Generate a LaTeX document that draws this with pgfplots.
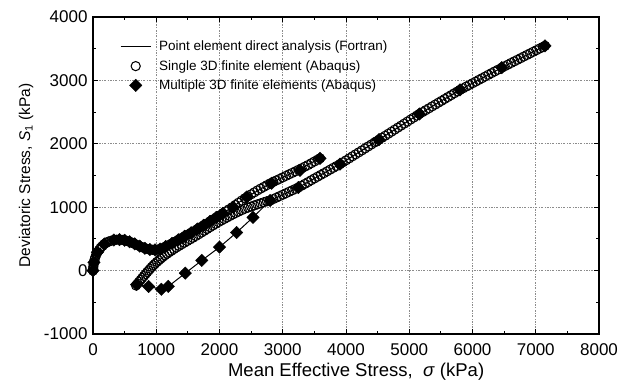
\documentclass[border=0pt]{standalone}
\usepackage{pgfplots}
\pgfplotsset{compat=1.18}
\usepackage{fontspec}
\setmainfont{Liberation Sans}
\pgfplotsset{
  linelegend/.style={legend image code/.code={\draw[##1] (0pt,0pt) -- (30pt,0pt);}},
  marklegend/.style={legend image code/.code={\draw[##1] plot coordinates {(15pt,0pt)};}},
}

\begin{document}
\begin{tikzpicture}
\begin{axis}[
  scale only axis, width=506pt, height=317pt,
  xmin=0, xmax=8000, ymin=-1000, ymax=4000,
  xtick={0,1000,2000,3000,4000,5000,6000,7000,8000},
  ytick={-1000,0,1000,2000,3000,4000},
  xticklabels={0,1000,2000,3000,4000,5000,6000,7000,8000},
  yticklabels={-1000,0,1000,2000,3000,4000},
  minor x tick num=1, minor y tick num=1,
  tick align=inside, major tick length=5pt, minor tick length=3pt,
  axis line style={line width=1.2pt},
  every tick/.style={black, line width=0.8pt},
  grid=major,
  major grid style={black!45, line width=0.8pt, dash pattern=on 2pt off 1.5pt on 0.6pt off 1.5pt},
  ticklabel style={font=\fontsize{17}{20}\selectfont},
  xticklabel style={yshift=-6pt},
  yticklabel style={xshift=-2pt},
  xlabel={Mean Effective Stress,\ \ \textit{σ} (kPa)},
  ylabel={Deviatoric Stress, \textit{S}\textsubscript{1} (kPa)},
  xlabel style={font=\fontsize{18.5}{22}\selectfont, at={(axis description cs:0.52,-0.1356)}, anchor=base},
  ylabel style={font=\fontsize{15.5}{18}\selectfont, at={(axis description cs:-0.1245,0.5)}, anchor=base},
  legend style={draw=none, fill=none, at={(rel axis cs:0,1)}, anchor=north west,
    xshift=27pt, yshift=-22pt, font=\fontsize{13.5}{16}\selectfont,
    inner sep=0pt, row sep=4pt, column sep=6pt,
    nodes={inner sep=2pt}},
  legend cell align=left,
]
% Point element direct analysis (Fortran)
\addplot[black, line width=1pt, linelegend]
  coordinates {
  (690,-220) (880,-250) (1080,-295) (1190,-250) (1460,-40) (1720,160)
  (2000,370) (2270,600) (2530,840) (2800,1105) (3246,1310) (3905,1680)
  (4522,2065) (5159,2470) (5802,2850) (6462,3200) (7146,3545)};
\addlegendentry{Point element direct analysis (Fortran)}
\addplot[black, line width=1pt, forget plot] coordinates {
  (0,0) (15,130) (70,290) (180,420) (330,482) (420,488) (580,455) (740,385)
  (900,332) (980,326) (1060,340) (1150,380) (1250,430) (1400,515) (1800,745)
  (2200,1000) (2400,1140) (2800,1375) (3200,1565) (3589,1771)};
% Single 3D finite element (Abaqus)
\addplot[only marks, mark=o, mark size=4.6pt, mark options={line width=1.05pt, black},
  marklegend]
  coordinates {
  (0,0) (2,30) (5,60) (10,95) (15,130) (24,170) (35,210) (52,250) (70,290)
  (95,325) (120,360) (150,390) (180,420) (215,440) (250,460) (290,472)
  (330,482) (375,487) (420,488) (460,484) (500,478) (540,467) (580,455)
  (620,438) (660,420) (700,402) (740,385) (780,368) (820,352) (860,341)
  (900,332) (940,328) (980,326) (1020,331) (1060,340) (1105,358) (1150,380)
  (1200,405) (1250,430) (1300,458) (1350,486) (1400,515) (1450,542)
  (1500,570) (1550,597) (1600,625) (1650,655) (1700,685) (1750,715)
  (1800,745) (1850,776) (1900,808) (1950,839) (2000,870) (2050,902)
  (2100,935) (2150,967) (2200,1000) (2250,1035) (2300,1070) (2350,1105)
  (2400,1140) (2450,1171) (2500,1203) (2550,1234) (2600,1265) (2650,1293)
  (2700,1320) (2750,1348) (2800,1375) (2850,1399) (2900,1423) (2950,1446)
  (3000,1470) (3050,1494) (3100,1518) (3150,1541) (3200,1565) (3250,1590)
  (3300,1615) (3350,1640) (3400,1665) (3450,1693) (3500,1721) (3550,1749)
  (3589,1771)
  (680,-235) (705,-205) (730,-175) (755,-145) (780,-115) (805,-85) (830,-55)
  (855,-25) (880,2) (905,30) (930,57) (955,83) (980,108) (1010,136)
  (1040,162) (1070,188) (1100,213) (1135,240) (1170,265) (1205,290)
  (1240,313) (1280,340) (1320,365) (1360,390) (1400,414) (1445,440)
  (1490,466) (1535,492) (1580,518) (1625,545) (1670,572) (1715,600)
  (1760,628) (1805,656) (1850,684) (1895,711) (1940,738) (1985,765)
  (2030,790) (2075,814) (2120,838) (2165,862) (2210,886) (2255,908)
  (2300,930) (2350,953) (2400,975) (2450,993) (2500,1010) (2550,1028)
  (2600,1045) (2650,1061) (2700,1078) (2750,1094) (2800,1105)
  (2850,1128) (2900,1151) (2950,1174) (3000,1197) (3050,1220) (3100,1243)
  (3150,1266) (3200,1289) (3246,1310) (3300,1340) (3350,1368) (3400,1396)
  (3450,1425) (3500,1453) (3550,1481) (3600,1509) (3650,1537) (3700,1565)
  (3750,1593) (3800,1621) (3850,1649) (3905,1680) (3950,1708) (4000,1739)
  (4050,1770) (4100,1802) (4150,1833) (4200,1864) (4250,1895) (4300,1926)
  (4350,1958) (4400,1989) (4450,2020) (4480,2039) (4522,2065) (4570,2096)
  (4620,2127) (4670,2159) (4720,2191) (4770,2223) (4820,2255) (4870,2286)
  (4920,2318) (4970,2350) (5020,2382) (5070,2413) (5120,2445) (5159,2470)
  (5210,2500) (5260,2530) (5310,2559) (5360,2589) (5410,2618) (5460,2648)
  (5510,2677) (5560,2707) (5610,2737) (5660,2766) (5710,2796) (5760,2825)
  (5802,2850) (5850,2875) (5900,2902) (5950,2928) (6000,2955) (6050,2981)
  (6100,3008) (6150,3034) (6200,3061) (6250,3088) (6300,3114) (6350,3141)
  (6400,3167) (6462,3200) (6510,3224) (6560,3249) (6610,3275) (6660,3300)
  (6710,3325) (6760,3350) (6810,3376) (6860,3401) (6910,3426) (6960,3451)
  (7010,3476) (7060,3502) (7110,3527) (7146,3545)};
\addlegendentry{Single 3D finite element (Abaqus)}
% Multiple 3D finite elements (Abaqus)
\addplot[only marks, mark=square*, mark size=4.4pt,
  mark options={rotate=45, fill=black, draw=black}, marklegend]
  coordinates {
  (0,0) (15,130) (70,290) (180,420) (330,482) (420,488) (500,478) (580,455)
  (660,420) (740,385) (820,352) (900,332) (980,326) (1060,340) (1150,380)
  (1250,430) (1350,486) (1450,542) (1550,597) (1650,655) (1750,715)
  (1850,776) (1950,839) (2050,902) (2218,1000) (2430,1160) (2825,1377)
  (3273,1580) (3589,1771)
  (690,-220) (880,-250) (1080,-295) (1190,-250) (1460,-40) (1720,160)
  (2000,370) (2270,600) (2530,840) (2800,1105) (3246,1310) (3905,1680)
  (4522,2065) (5159,2470) (5802,2850) (6462,3200) (7146,3545)};
\addlegendentry{Multiple 3D finite elements (Abaqus)}
\coordinate (ll) at (rel axis cs:0,0);
\coordinate (ur) at (rel axis cs:1,1);
\end{axis}
\pgfresetboundingbox
\path ([shift={(-93pt,-49pt)}]ll) rectangle ([shift={(33pt,17pt)}]ur);
\end{tikzpicture}
\end{document}
